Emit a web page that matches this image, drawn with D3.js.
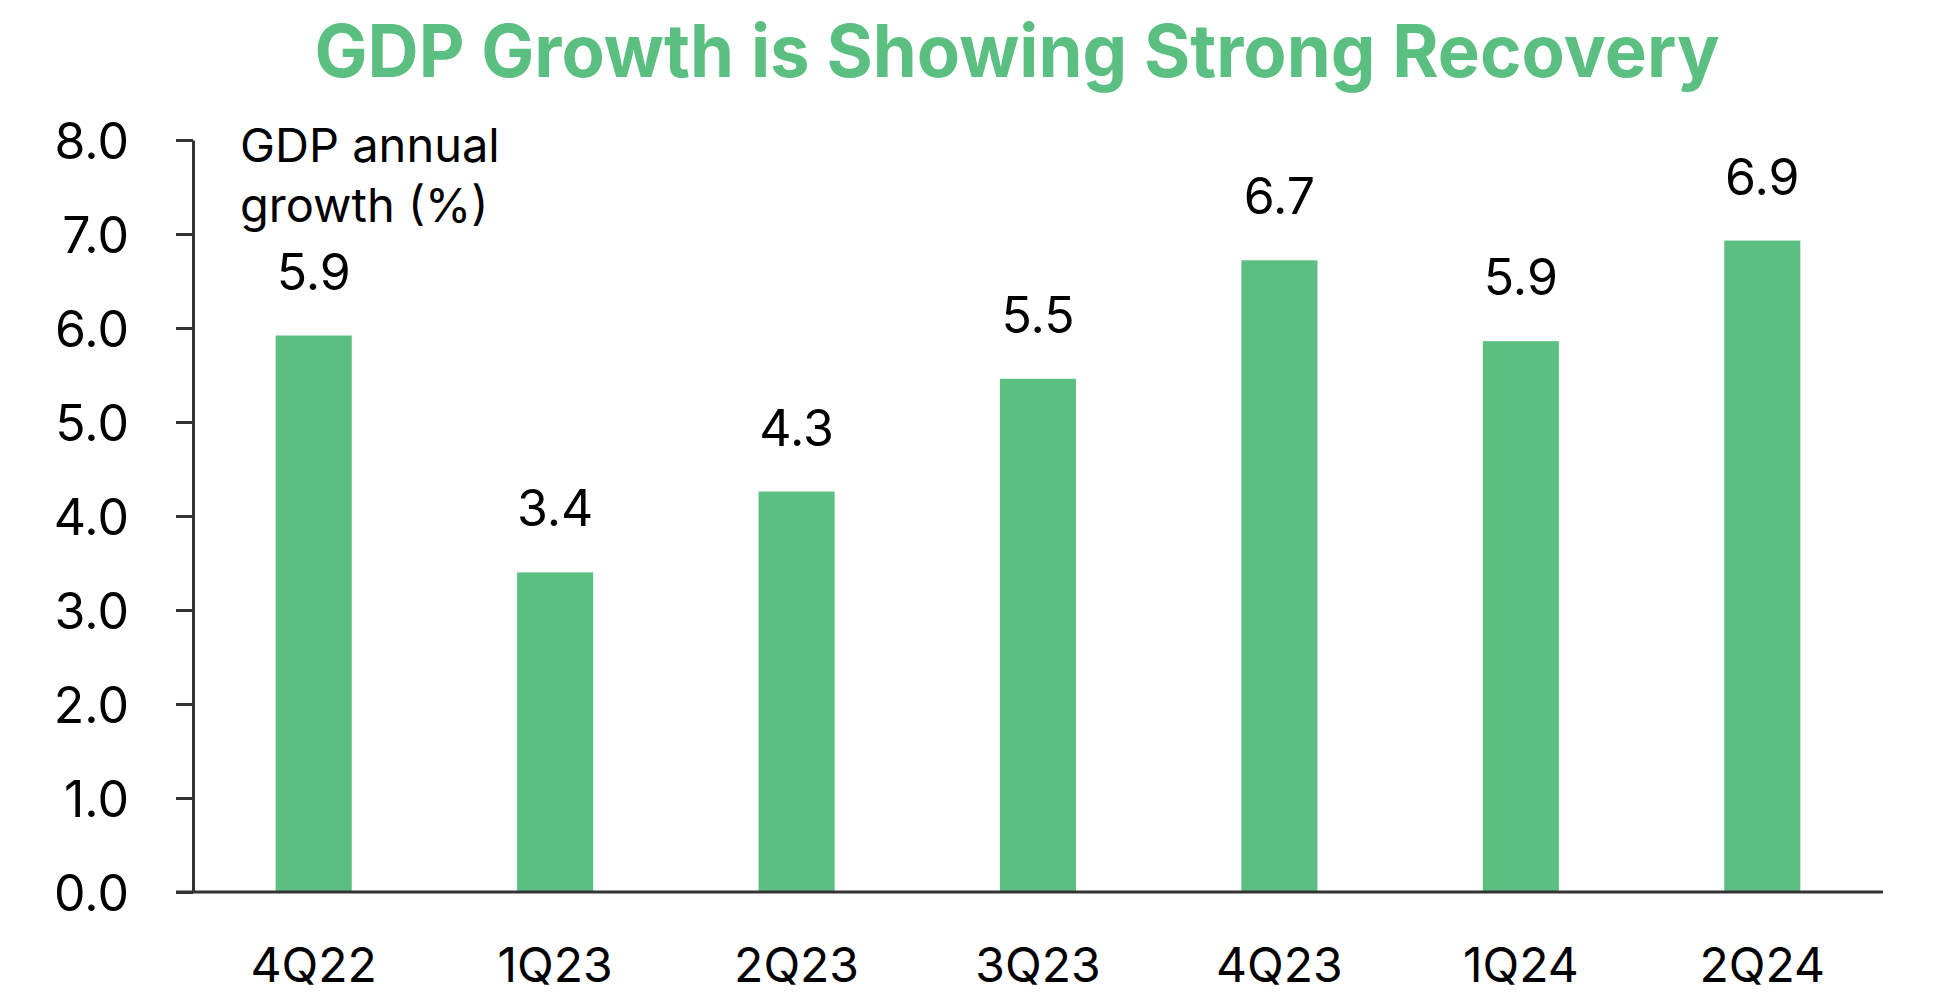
<!DOCTYPE html>
<html>
<head>
<meta charset="utf-8">
<script src="https://cdn.jsdelivr.net/npm/d3@7"></script>
<style>
  body { margin: 0; background: #fff; }
  text { font-family: Inter, "Noto Sans", sans-serif; }
</style>
</head>
<body>
<div id="chart"></div>
<script>
// ----- GDP bar chart -----

const quarters = ["4Q22", "1Q23", "2Q23", "3Q23", "4Q23", "1Q24", "2Q24"];
const gdpGrowth = [5.92, 3.4, 4.26, 5.46, 6.72, 5.86, 6.93];
const yTicks = [0, 1, 2, 3, 4, 5, 6, 7, 8];
const titleText = "GDP Growth is Showing Strong Recovery";
const unitLines = ["GDP annual", "growth (%)"];

const width = 1940;
const height = 1006;
const margin = { top: 140, right: 57, bottom: 114, left: 193 };
const green = "#5bbf82";

const svg = d3.select("#chart")
    .append("svg")
    .attr("width", width)
    .attr("height", height);

const x = d3.scaleBand()
    .domain(quarters)
    .range([margin.left, width - margin.right])
    .paddingInner(0.685)
    .paddingOuter(0.3425);

const y = d3.scaleLinear()
    .domain([0, 8])
    .range([height - margin.bottom, margin.top]);

// title
svg.append("text")
    .attr("x", 1017)
    .attr("y", 77)
    .attr("text-anchor", "middle")
    .attr("textLength", 1405)
    .attr("lengthAdjust", "spacingAndGlyphs")
    .style("font-size", "73px")
    .style("font-weight", 700)
    .style("fill", green)
    .text(titleText);

// bars
svg.selectAll(".bar")
    .data(quarters)
    .enter().append("rect")
    .attr("class", "bar")
    .attr("x", d => x(d))
    .attr("width", x.bandwidth())
    .attr("y", (d, i) => y(gdpGrowth[i]))
    .attr("height", (d, i) => y(0) - y(gdpGrowth[i]))
    .attr("fill", green);

// value labels
svg.selectAll(".value")
    .data(quarters)
    .enter().append("text")
    .attr("class", "value")
    .attr("x", d => x(d) + x.bandwidth() / 2)
    .attr("y", (d, i) => y(gdpGrowth[i]) - 46)
    .attr("text-anchor", "middle")
    .style("font-size", "50px")
    .style("fill", "#000")
    .text((d, i) => d3.format(".1f")(gdpGrowth[i]));

// y axis
const yAxis = svg.append("g")
    .attr("transform", `translate(${margin.left},0)`)
    .call(d3.axisLeft(y).tickValues(yTicks).tickFormat(d3.format(".1f"))
        .tickSize(17).tickPadding(47).tickSizeOuter(0));

yAxis.select(".domain").attr("stroke", "#333").attr("stroke-width", 3);
yAxis.selectAll(".tick line").attr("stroke", "#333").attr("stroke-width", 3);
yAxis.selectAll(".tick text")
    .attr("dy", "0.36em")
    .style("font-size", "50px")
    .style("font-family", "Inter, sans-serif")
    .style("fill", "#000");

// x axis
const xAxis = svg.append("g")
    .attr("transform", `translate(0,${y(0)})`)
    .call(d3.axisBottom(x).tickSize(0).tickPadding(90).tickSizeOuter(0));

xAxis.select(".domain").attr("stroke", "#333").attr("stroke-width", 3)
    .attr("d", `M${margin.left - 17},0H${width - margin.right}`);
xAxis.selectAll(".tick text")
    .attr("dy", 0)
    .style("font-size", "48px")
    .style("font-family", "Inter, sans-serif")
    .style("fill", "#000");

// unit note
svg.append("text")
    .attr("x", 240)
    .attr("y", 162)
    .style("font-size", "47px")
    .style("fill", "#000")
    .selectAll("tspan")
    .data(unitLines)
    .enter().append("tspan")
    .attr("x", 240)
    .attr("dy", (d, i) => i === 0 ? 0 : 60)
    .text(d => d);
</script>
</body>
</html>
